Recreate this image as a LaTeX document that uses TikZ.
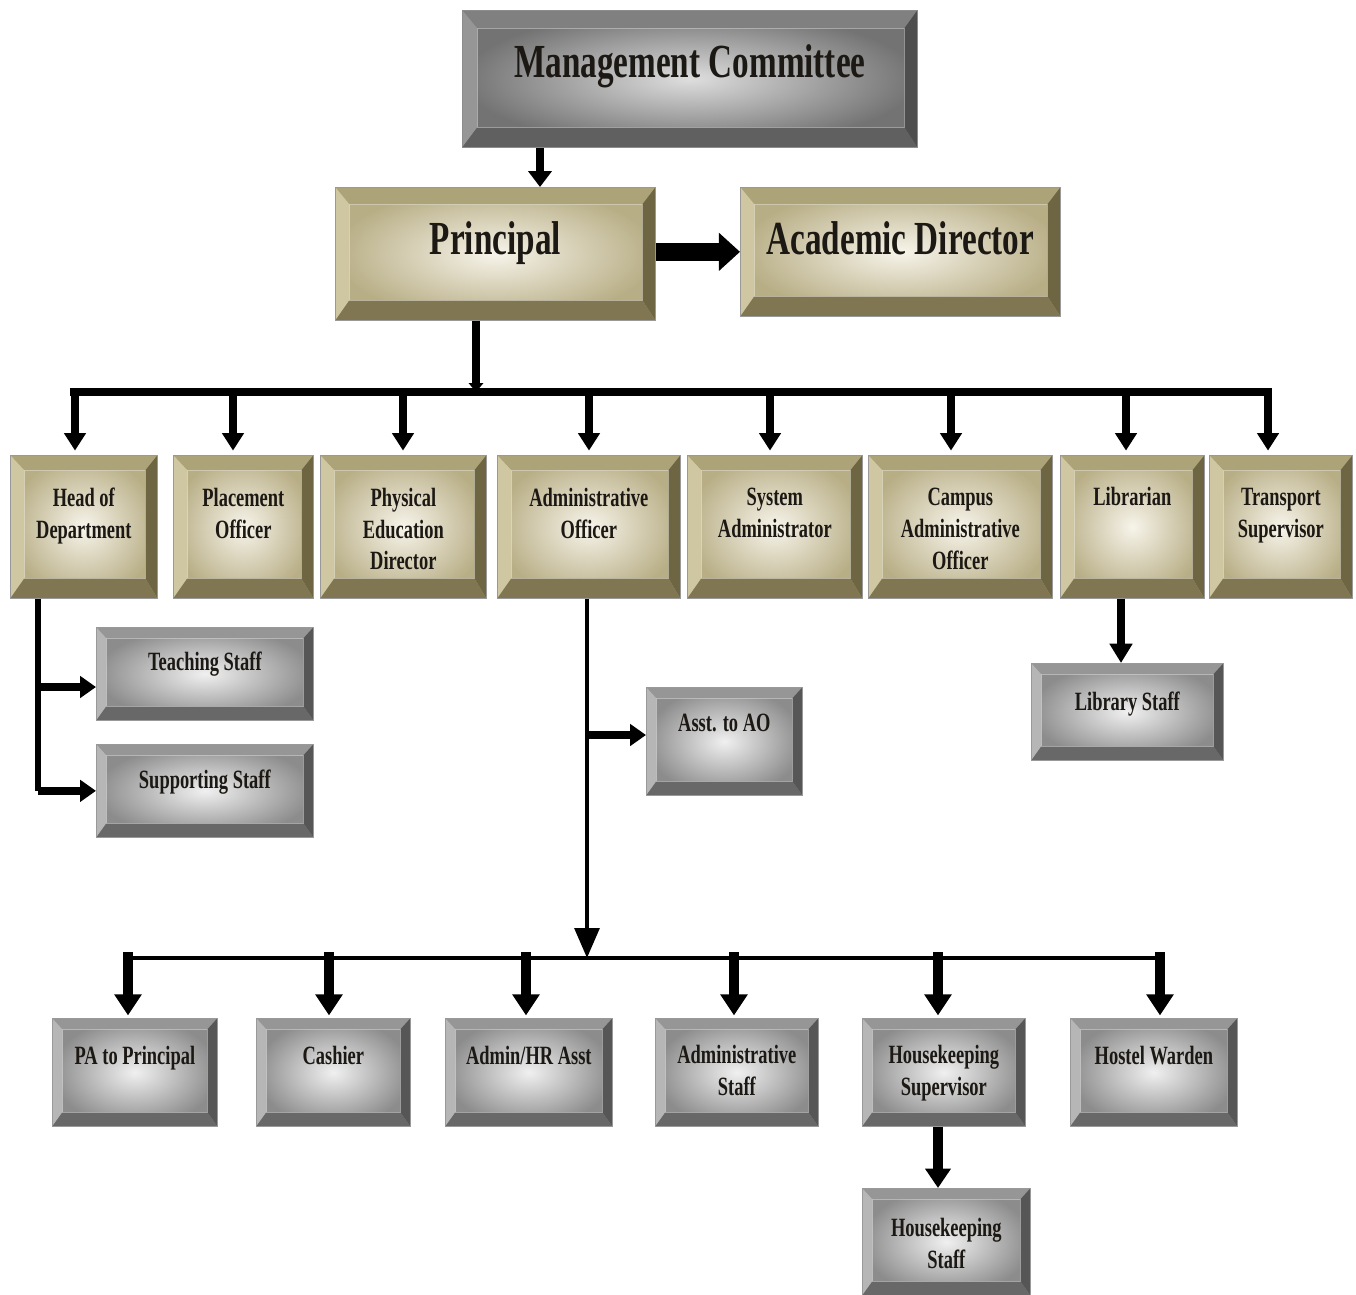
\documentclass[tikz,border=0pt]{standalone}
\usepackage{fontspec}
\setmainfont{Liberation Serif}[FakeStretch=0.7]
\usetikzlibrary{arrows.meta}
\definecolor{tanface}{RGB}{184,174,134}
\definecolor{tanlight}{RGB}{247,244,234}
\definecolor{tantop}{RGB}{172,163,120}
\definecolor{tanleft}{RGB}{207,199,162}
\definecolor{tanright}{RGB}{110,102,66}
\definecolor{tanbot}{RGB}{128,119,82}
\definecolor{grface}{RGB}{140,140,140}
\definecolor{grlight}{RGB}{240,240,240}
\definecolor{grtop}{RGB}{150,150,150}
\definecolor{grleft}{RGB}{182,182,182}
\definecolor{grright}{RGB}{86,86,86}
\definecolor{grbot}{RGB}{104,104,104}
\definecolor{mcface}{RGB}{115,115,115}
\definecolor{mclight}{RGB}{222,222,222}
\definecolor{mctop}{RGB}{128,128,128}
\definecolor{mcleft}{RGB}{150,150,150}
\definecolor{mcright}{RGB}{78,78,78}
\definecolor{mcbot}{RGB}{96,96,96}
\definecolor{ink}{RGB}{28,24,20}
\tikzset{
  bevel/.style n args={8}{path picture={
    \fill[#1] (path picture bounding box.north west) -- (path picture bounding box.north east)
      -- ([xshift=-#8,yshift=-#5]path picture bounding box.north east)
      -- ([xshift=#7,yshift=-#5]path picture bounding box.north west) -- cycle;
    \fill[#2] (path picture bounding box.north west) -- ([xshift=#7,yshift=-#5]path picture bounding box.north west)
      -- ([xshift=#7,yshift=#6]path picture bounding box.south west) -- (path picture bounding box.south west) -- cycle;
    \fill[#3] (path picture bounding box.north east) -- ([xshift=-#8,yshift=-#5]path picture bounding box.north east)
      -- ([xshift=-#8,yshift=#6]path picture bounding box.south east) -- (path picture bounding box.south east) -- cycle;
    \fill[#4] (path picture bounding box.south west) -- (path picture bounding box.south east)
      -- ([xshift=-#8,yshift=#6]path picture bounding box.south east)
      -- ([xshift=#7,yshift=#6]path picture bounding box.south west) -- cycle;
    \draw[white,opacity=0.35,line width=0.6pt] ([xshift=#7,yshift=-#5]path picture bounding box.north west)
      rectangle ([xshift=-#8,yshift=#6]path picture bounding box.south east);
  }},
  mcbox/.style={inner sep=0pt, draw=black!45, line width=0.4pt, inner color=mclight, outer color=mcface,
    bevel={mctop}{mcleft}{mcright}{mcbot}{0.36cm}{0.4cm}{0.3cm}{0.26cm}},
  tanbig/.style={inner sep=0pt, draw=black!40, line width=0.4pt, inner color=tanlight, outer color=tanface,
    bevel={tantop}{tanleft}{tanright}{tanbot}{0.34cm}{0.4cm}{0.28cm}{0.26cm}},
  tanbox/.style={inner sep=0pt, draw=black!40, line width=0.4pt, inner color=tanlight, outer color=tanface,
    bevel={tantop}{tanleft}{tanright}{tanbot}{0.3cm}{0.4cm}{0.28cm}{0.24cm}},
  grbox/.style={inner sep=0pt, draw=black!40, line width=0.4pt, inner color=grlight, outer color=grface,
    bevel={grtop}{grleft}{grright}{grbot}{0.22cm}{0.28cm}{0.2cm}{0.2cm}},
  bigtxt/.style={inner sep=0pt, align=center, text=ink, font=\bfseries\fontsize{27}{30}\selectfont},
  smtxt/.style={inner sep=0pt, align=center, text=ink, font=\bfseries\fontsize{15}{17}\selectfont},
  rowtxt/.style={inner sep=0pt, align=center, text=ink, font=\bfseries\fontsize{15}{18}\selectfont},
  a1/.style={line width=4.5pt, -{Triangle[width=13pt,length=9pt]}},
  a2/.style={line width=10pt, -{Triangle[width=21pt,length=12pt]}},
  a3/.style={line width=4pt, -{Triangle[width=8pt,length=5pt]}},
  bus/.style={line width=4pt},
  d1/.style={line width=4pt, -{Triangle[width=12pt,length=10pt]}, shorten >=2.5pt},
  hb/.style={line width=3pt},
  h1/.style={line width=4.5pt, -{Triangle[width=12pt,length=9pt]}},
  ao/.style={line width=2.3pt, -{Triangle[width=14pt,length=17pt]}},
  bus2/.style={line width=2.8pt},
  d2/.style={line width=5.7pt, -{Triangle[width=15pt,length=12pt]}, shorten >=1.5pt},
  d3/.style={line width=4pt, -{Triangle[width=12.5pt,length=11pt]}},
  d4/.style={line width=5.7pt, -{Triangle[width=14pt,length=11pt]}},
}
% name, box style, x1, y1, x2, y2, text offset, text style, text
\newcommand\obox[9]{%
  \node[#2, anchor=north west, minimum width={(#5-#3)*0.02cm}, minimum height={(#6-#4)*0.02cm}] (#1) at (#3,#4) {};
  \node[#8, anchor=north] (#1-t) at ([yshift={-#7*0.02cm}]#1.north) {#9};}
\begin{document}
\begin{tikzpicture}[x=0.02cm,y=-0.02cm]
\fill[white] (0,0) rectangle (1356,1295);
\useasboundingbox (0,0) rectangle (1356,1295);

% top
\obox{mc}{mcbox}{462}{10}{917}{147}{34}{bigtxt}{Management Committee}
\obox{prin}{tanbig}{335}{187}{655}{320}{34}{bigtxt}{Principal}
\obox{ad}{tanbig}{740}{187}{1060}{316}{34}{bigtxt}{Academic Director}

% row 2
\obox{hod}{tanbox}{10}{455}{157}{598}{33}{rowtxt}{Head of\\Department}
\obox{po}{tanbox}{173}{455}{313}{598}{33}{rowtxt}{Placement\\Officer}
\obox{ped}{tanbox}{320}{455}{486}{598}{33}{rowtxt}{Physical\\Education\\Director}
\obox{aoff}{tanbox}{497}{455}{680}{598}{33}{rowtxt}{Administrative\\Officer}
\obox{sa}{tanbox}{687}{455}{862}{598}{33}{rowtxt}{System\\Administrator}
\obox{cao}{tanbox}{868}{455}{1052}{598}{33}{rowtxt}{Campus\\Administrative\\Officer}
\obox{lib}{tanbox}{1060}{455}{1204}{598}{32}{rowtxt}{Librarian}
\obox{ts}{tanbox}{1209}{455}{1352}{598}{33}{rowtxt}{Transport\\Supervisor}

% middle grey boxes
\obox{teach}{grbox}{96}{627}{313}{720}{25}{smtxt}{Teaching Staff}
\obox{supp}{grbox}{96}{744}{313}{837}{26}{smtxt}{Supporting Staff}
\obox{asst}{grbox}{646}{687}{802}{795}{27}{smtxt}{Asst. to AO}
\obox{libs}{grbox}{1031}{663}{1223}{760}{29}{smtxt}{Library Staff}

% row 3
\obox{pa}{grbox}{52}{1018}{217}{1126}{28}{smtxt}{PA to Principal}
\obox{cash}{grbox}{256}{1018}{410}{1126}{28}{smtxt}{Cashier}
\obox{hr}{grbox}{445}{1018}{612}{1126}{28}{smtxt}{Admin/HR Asst}
\obox{ast}{grbox}{655}{1018}{818}{1126}{27}{rowtxt}{Administrative\\Staff}
\obox{hks}{grbox}{862}{1018}{1025}{1126}{27}{rowtxt}{Housekeeping\\Supervisor}
\obox{hw}{grbox}{1070}{1018}{1237}{1126}{28}{smtxt}{Hostel Warden}
\obox{hkst}{grbox}{862}{1188}{1030}{1295}{30}{rowtxt}{Housekeeping\\Staff}

% connectors: top
\coordinate (xmc) at (540,0);
\draw[a1] (mc.south -| xmc) -- (prin.north -| xmc);
\draw[a2] (prin.east |- ad.west) -- (ad.west);

% principal to bus 1
\coordinate (xp) at (476,0);
\coordinate (b1l) at (70,392);
\coordinate (b1r) at (1272,392);
\draw[bus] (b1l) -- (b1r);
\draw[a3] (prin.south -| xp) -- (b1l -| xp);

\foreach \x/\n in {75/hod,233/po,403/ped,589/aoff,770/sa,951/cao,1126/lib,1268/ts}{
  \coordinate (d-\n) at (\x,390);
  \draw[d1] (d-\n) -- (\n.north -| d-\n);
}

% head of department bracket
\coordinate (xh) at (38,0);
\coordinate (yt) at (0,687);
\draw[hb] (hod.south -| xh) -- (xh |- supp.west);
\draw[h1] (xh |- yt) -- (teach.west |- yt);
\draw[h1] (xh |- supp.west) -- (supp.west);

% administrative officer line
\coordinate (xa) at (587,0);
\coordinate (b2l) at (128,958);
\coordinate (b2r) at (1162,958);
\draw[bus2] (b2l) -- (b2r);
\draw[ao] (aoff.south -| xa) -- (b2l -| xa);
\coordinate (ya) at (0,735);
\draw[h1] (xa |- ya) -- (asst.west |- ya);

\foreach \x/\n in {128/pa,329/cash,526/hr,734/ast,938/hks,1160/hw}{
  \coordinate (e-\n) at (\x,952);
  \draw[d2] (e-\n) -- (\n.north -| e-\n);
}

% librarian -> library staff
\coordinate (xl) at (1121,0);
\draw[d3] (lib.south -| xl) -- (libs.north -| xl);

% housekeeping
\coordinate (xk) at (938,0);
\draw[d4] (hks.south -| xk) -- (hkst.north -| xk);
\end{tikzpicture}
\end{document}
